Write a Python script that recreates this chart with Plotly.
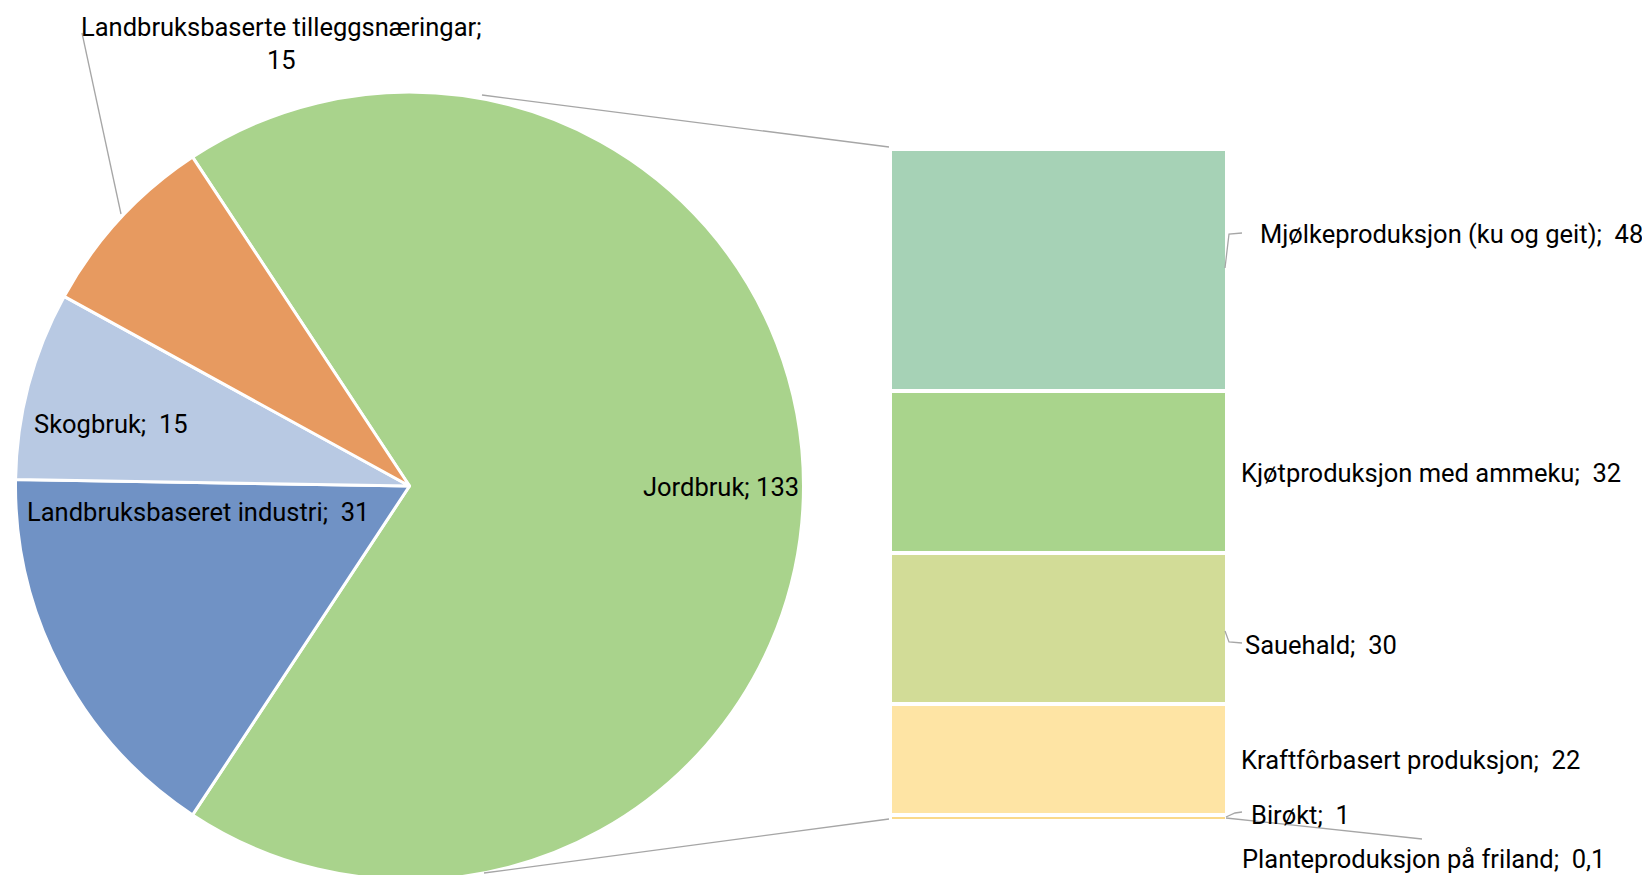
import plotly.graph_objects as go

# ---------------- data ----------------
pie_labels = ["Jordbruk", "Landbruksbaseret industri", "Skogbruk", "Landbruksbaserte tilleggsnæringar"]
pie_values = [133, 31, 15, 15]
pie_colors = ["#A9D38C", "#7092C5", "#B8C9E3", "#E79A60"]

bar_labels = ["Planteproduksjon på friland", "Birøkt", "Kraftfôrbasert produksjon",
              "Sauehald", "Kjøtproduksjon med ammeku", "Mjølkeproduksjon (ku og geit)"]
bar_values = [0.1, 1, 22, 30, 32, 48]
bar_colors = ["#FFE6A6", "#FAD98A", "#FEE4A4", "#D2DC97", "#A9D48C", "#A6D2B6"]

# page body has an 8px margin: figure is shifted by it inside the 1650x875 window
OX, OY = 8, 8
W, H = 1650 - OX, 875
FONT = "Roboto"
FS = 25.5
GRAY = "#A6A6A6"


def fmt(v):
    return f"{v:g}".replace(".", ",")


def px(x):
    return (x - OX) / W


def py(y):
    return 1 - (y - OY) / H


fig = go.Figure()

# pie
total_pie = sum(pie_values)
rotation = 90 - 360 * pie_values[0] / total_pie / 2
fig.add_trace(go.Pie(
    labels=pie_labels, values=pie_values, sort=False, direction="clockwise",
    rotation=rotation, textinfo="none", hoverinfo="label+value",
    marker=dict(colors=pie_colors, line=dict(color="white", width=3)),
    domain=dict(x=[px(15.5), px(803.5)], y=[py(880), py(92)]), showlegend=False,
))

# stacked bar
bar_total = sum(bar_values)
for lab, val, col in zip(bar_labels, bar_values, bar_colors):
    fig.add_trace(go.Bar(
        x=[0], y=[val], name=lab, width=1,
        marker=dict(color=col, line=dict(color="white", width=4)),
        showlegend=False, hoverinfo="name+y",
    ))

bx0, bx1, by0, by1 = 890, 1227, 149, 821
fig.update_layout(
    width=W, height=H, margin=dict(l=0, r=0, t=0, b=0),
    paper_bgcolor="white", plot_bgcolor="rgba(0,0,0,0)",
    barmode="stack",
    xaxis=dict(domain=[px(bx0), px(bx1)], range=[-0.5, 0.5], visible=False, fixedrange=True),
    yaxis=dict(domain=[py(by1), py(by0)], range=[0, bar_total], visible=False, fixedrange=True),
    font=dict(family=FONT, size=FS, color="black"),
)

# labels
pie_text = {lab: f"{lab};  {fmt(v)}" for lab, v in zip(pie_labels, pie_values)}
bar_text = {lab: f"{lab};  {fmt(v)}" for lab, v in zip(bar_labels, bar_values)}
pie_text["Jordbruk"] = f"Jordbruk; {fmt(pie_values[0])}"
pie_text["Landbruksbaserte tilleggsnæringar"] = f"{pie_labels[3]};<br>{fmt(pie_values[3])}"

label_pos = [
    (pie_text["Jordbruk"], 641, 487, "left"),
    (pie_text["Landbruksbaseret industri"], 25, 512, "left"),
    (pie_text["Skogbruk"], 32, 424, "left"),
    (pie_text["Landbruksbaserte tilleggsnæringar"], 281, 43, "center"),
    (bar_text["Mjølkeproduksjon (ku og geit)"], 1645, 234, "right"),
    (bar_text["Kjøtproduksjon med ammeku"], 1239, 473, "left"),
    (bar_text["Sauehald"], 1243, 645, "left"),
    (bar_text["Kraftfôrbasert produksjon"], 1239, 760, "left"),
    (bar_text["Birøkt"], 1249, 815, "left"),
    (bar_text["Planteproduksjon på friland"], 1240, 859, "left"),
]
for txt, x, y, anc in label_pos:
    fig.add_annotation(text=txt, x=px(x), y=py(y), xref="paper", yref="paper",
                       xanchor=anc, yanchor="middle", align="center", showarrow=False,
                       font=dict(family=FONT, size=FS, color="black"))

# connector and leader lines
lines = [
    [(482, 95), (889, 147)],
    [(484, 873), (889, 819)],
    [(82, 33), (121, 214)],
    [(1225, 268), (1229, 234), (1242, 233)],
    [(1225, 631), (1229, 642), (1242, 643)],
    [(1226, 817), (1235, 813), (1242, 812)],
    [(1226, 818), (1422, 839)],
]
for pts in lines:
    path = "M " + " L ".join(f"{px(x):.5f},{py(y):.5f}" for x, y in pts)
    fig.add_shape(type="path", path=path, xref="paper", yref="paper",
                  line=dict(color=GRAY, width=1.3))

fig.write_html("out.html")
